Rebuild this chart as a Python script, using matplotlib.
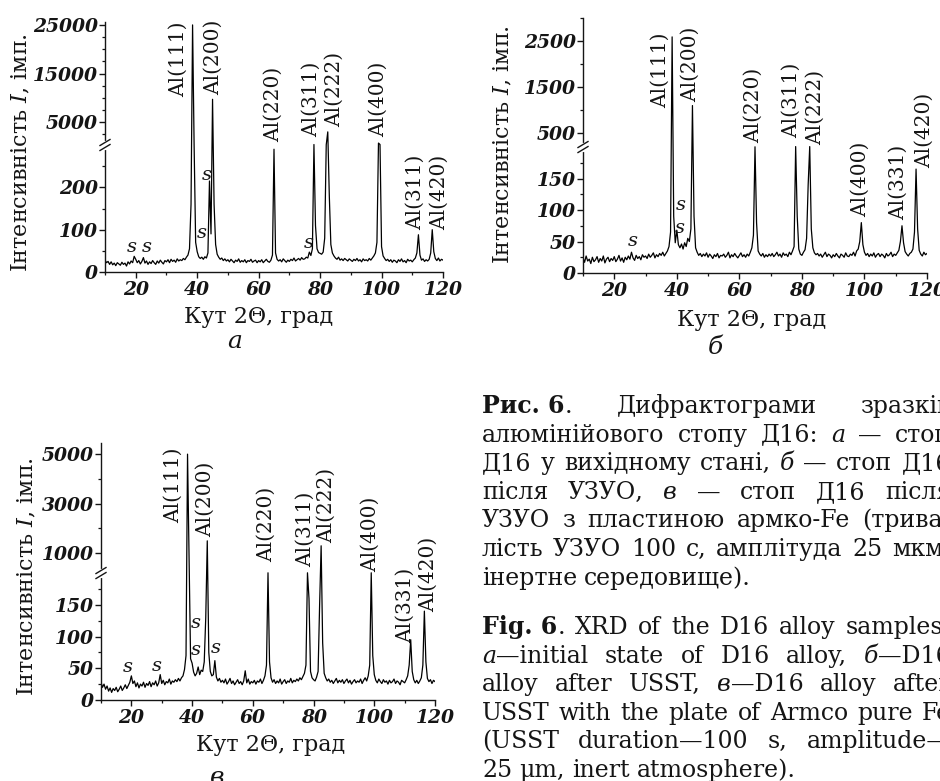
import numpy as np
import matplotlib
matplotlib.use("Agg")
import matplotlib.pyplot as plt
from matplotlib.transforms import blended_transform_factory

plt.rcParams["font.family"] = "DejaVu Serif"
plt.rcParams["mathtext.fontset"] = "dejavuserif"

# 2Theta grid of the scans (deg), 0.5 deg step
two_theta = np.arange(10.0, 120.5, 0.5)

# a - initial state of D16
intensity_a = [
    28, 22, 25, 18, 24, 17, 21, 15, 22, 19,
    16, 23, 18, 21, 14, 24, 19, 26, 22, 37,
    30, 22, 27, 19, 25, 34, 21, 26, 18, 24,
    20, 27, 22, 18, 26, 21, 28, 23, 19, 27,
    24, 29, 22, 30, 25, 28, 23, 31, 26, 29,
    27, 32, 29, 35, 40, 55, 160, 25000, 350, 70,
    48, 36, 32, 35, 30, 36, 33, 45, 215, 90,
    9700, 160, 65, 42, 35, 30, 33, 27, 31, 26,
    29, 24, 30, 26, 22, 28, 25, 31, 23, 27,
    24, 29, 22, 27, 25, 30, 23, 26, 28, 22,
    27, 24, 29, 22, 26, 30, 25, 23, 28, 40,
    290, 45, 30, 26, 29, 24, 31, 27, 23, 28,
    25, 30, 27, 33, 26, 29, 32, 28, 34, 30,
    31, 35, 33, 47, 39, 55, 400, 110, 55, 46,
    44, 42, 47, 80, 350, 3000, 180, 65, 45, 38,
    33, 30, 35, 28, 31, 27, 32, 29, 26, 31,
    28, 25, 30, 27, 32, 26, 29, 24, 31, 27,
    29, 26, 32, 28, 33, 38, 45, 70, 700, 400,
    60, 38, 32, 27, 30, 25, 29, 23, 28, 26,
    22, 29, 25, 31, 24, 27, 22, 30, 26, 28,
    24, 29, 33, 45, 88, 40, 28, 31, 25, 29,
    26, 30, 45, 100, 48, 32, 27, 33, 26, 30,
    28]

# b - after USST
intensity_b = [
    24, 17, 27, 19, 22, 15, 25, 18, 21, 26,
    17, 23, 19, 27, 16, 22, 25, 18, 23, 20,
    26, 18, 22, 28, 19, 24, 17, 25, 21, 27,
    22, 33, 24, 20, 28, 23, 26, 21, 29, 25,
    27, 23, 30, 25, 28, 32, 24, 29, 26, 31,
    28, 33, 27, 31, 35, 42, 65, 2590, 90, 48,
    68, 45, 40, 46, 38, 48, 42, 55, 50, 70,
    1100, 90, 40, 33, 28, 31, 26, 30, 27, 32,
    25, 30, 27, 23, 29, 26, 31, 24, 28, 27,
    30, 25, 28, 33, 24, 29, 26, 31, 27, 24,
    28, 32, 26, 29, 25, 30, 27, 33, 40, 60,
    205, 80, 35, 30, 27, 31, 25, 29, 26, 30,
    27, 31, 26, 29, 33, 27, 30, 25, 32, 28,
    30, 26, 33, 29, 35, 42, 210, 90, 38, 30,
    28, 33, 37, 55, 140, 210, 70, 40, 32, 29,
    31, 27, 30, 25, 29, 33, 26, 30, 28, 24,
    29, 26, 31, 27, 24, 30, 28, 25, 32, 27,
    26, 30, 28, 33, 27, 35, 38, 50, 80, 45,
    33, 28, 31, 26, 30, 27, 32, 25, 29, 31,
    26, 30, 28, 24, 31, 27, 29, 33, 26, 30,
    28, 32, 36, 50, 75, 48, 34, 30, 27, 31,
    33, 38, 65, 165, 70, 36, 30, 27, 33, 29,
    31]

# c - after USST with Armco-Fe plate
intensity_c = [
    28, 20, 25, 17, 22, 14, 19, 12, 18, 15,
    20, 13, 17, 22, 15, 19, 24, 18, 23, 28,
    38, 26, 30, 21, 27, 19, 25, 22, 28, 20,
    26, 23, 29, 21, 27, 24, 30, 22, 27, 40,
    26, 31, 24, 29, 27, 33, 25, 30, 28, 32,
    29, 34, 30, 35, 38, 48, 70, 5000, 900, 65,
    58, 44, 38, 42, 52, 40, 47, 45, 60, 130,
    1500, 75, 45, 38, 40, 62, 36, 30, 34, 28,
    31, 27, 33, 25, 29, 34, 26, 30, 24, 28,
    32, 26, 29, 24, 30, 46, 27, 33, 25, 29,
    27, 31, 25, 30, 28, 33, 26, 31, 38, 55,
    210, 60, 35, 28, 32, 26, 30, 27, 33, 25,
    29, 32, 26, 30, 28, 34, 27, 31, 29, 33,
    30, 35, 32, 37, 42, 55, 210, 160, 45, 35,
    32, 30, 36, 45, 150, 1300, 90, 42, 35, 30,
    33, 28, 31, 26, 30, 34, 27, 31, 28, 32,
    26, 30, 33, 27, 31, 25, 29, 32, 27, 30,
    28, 33, 26, 31, 35, 30, 38, 55, 210, 70,
    40, 31, 27, 33, 29, 26, 32, 28, 30, 25,
    31, 27, 29, 33, 26, 30, 28, 24, 31, 29,
    27, 32, 38, 55, 95, 45, 32, 27, 31, 26,
    30, 35, 55, 140, 60, 34, 29, 32, 26, 31,
    29]

peaks_a = ["Al(111)", "Al(200)", "Al(220)", "Al(311)", "Al(222)", "Al(400)", "Al(311)", "Al(420)"]
peaks_bc = ["Al(111)", "Al(200)", "Al(220)", "Al(311)", "Al(222)", "Al(400)", "Al(331)", "Al(420)"]

yticks_a = [0, 100, 200, 5000, 15000, 25000]
yticks_b = [0, 50, 100, 150, 500, 1500, 2500]
yticks_c = [0, 50, 100, 150, 1000, 3000, 5000]

xlabel = "Кут 2Θ, град"
ylabel = "Інтенсивність $I$, імп."

caption_ua = [
    "#Рис.~6#. Дифрактограми зразків",
    "алюмінійового стопу Д16: *а* — стоп",
    "Д16 у вихідному стані, *б* — стоп Д16",
    "після УЗУО, *в* — стоп Д16 після",
    "УЗУО з пластиною армко-Fe (трива-",
    "лість УЗУО 100 с, амплітуда 25 мкм,",
    "інертне середовище).",
]
caption_en = [
    "#Fig.~6#. XRD of the D16 alloy samples:",
    "*а*—initial state of D16 alloy, *б*—D16",
    "alloy after USST, *в*—D16 alloy after",
    "USST with the plate of Armco pure Fe",
    "(USST duration—100 s, amplitude—",
    "25 μm, inert atmosphere).",
]

W, H = 940, 781
INK = "#151515"
TICK_FS = 13.5
AXLAB_FS = 16
PEAK_FS = 14.5
fig = plt.figure(figsize=(W / 100, H / 100), dpi=100)


def fx(px):
    return px / W


def fy(py):
    return 1 - py / H


def broken_scale(lo_max, hi_max, frac):
    def fwd(y):
        y = np.asarray(y, dtype=float)
        return np.where(y <= lo_max, y / lo_max * frac,
                        frac + (y - lo_max) / (hi_max - lo_max) * (1 - frac))

    def inv(f):
        f = np.asarray(f, dtype=float)
        return np.where(f <= frac, f / frac * lo_max,
                        lo_max + (f - frac) / (1 - frac) * (hi_max - lo_max))
    return fwd, inv


def draw_panel(box, values, lo_max, hi_max, frac, yticks, yminor,
               labels, label_pos, s_pos):
    left, top, right, bottom = box
    bw, bh = right - left, bottom - top
    ax = fig.add_axes([fx(left), fy(bottom), bw / W, bh / H])
    ax.set_yscale("function", functions=broken_scale(lo_max, hi_max, frac))
    ax.plot(two_theta, values, color="black", lw=0.9)
    ax.set_xlim(10, 120)
    ax.set_ylim(0, hi_max)

    ax.set_xticks(range(20, 121, 20))
    ax.set_xticks(range(10, 120, 20), minor=True)
    ax.set_xticklabels([str(v) for v in range(20, 121, 20)],
                       fontstyle="italic", fontweight="bold", fontsize=TICK_FS)
    ax.set_yticks(yticks)
    ax.set_yticks(yminor, minor=True)
    ax.set_yticklabels([str(v) for v in yticks],
                       fontstyle="italic", fontweight="bold", fontsize=TICK_FS)
    ax.tick_params(which="major", length=4, width=1, color=INK, labelcolor=INK)
    ax.tick_params(which="minor", length=2.5, width=0.9, color=INK)
    ax.tick_params(axis="y", pad=1.0)
    ax.tick_params(axis="x", pad=2.5)
    for side in ["top", "right"]:
        ax.spines[side].set_visible(False)
    for side in ["left", "bottom"]:
        ax.spines[side].set_linewidth(1.0)
        ax.spines[side].set_color(INK)

    # break mark on the y axis
    gap = 2.5 / bh
    ax.plot([0, 0], [frac - gap, frac + gap], transform=ax.transAxes,
            color="white", lw=3, clip_on=False, zorder=5)
    for off in (-gap, gap):
        ax.plot([-5 / bw, 5 / bw], [frac + off - 3 / bh, frac + off + 3 / bh],
                transform=ax.transAxes, color=INK, lw=1, clip_on=False, zorder=6)

    trans = blended_transform_factory(ax.transData, ax.transAxes)
    for lab, (px, py) in zip(labels, label_pos):
        ax.text(px, py, lab, transform=trans, rotation=90, ha="center",
                va="bottom", fontsize=PEAK_FS, color=INK, clip_on=False)
    for px, py in s_pos:
        ax.text(px, py, "s", transform=trans, ha="center", va="center",
                fontsize=14, style="italic", color=INK)
    return ax


# panel a
draw_panel((105, 22, 443, 272), intensity_a, 300, 25600, 0.508,
           yticks_a, [50, 150, 250, 2500, 7500, 10000, 12500, 17500, 20000, 22500],
           peaks_a,
           [(33.9, 0.70), (45.2, 0.708), (64.8, 0.521), (77.2, 0.541),
            (84.8, 0.581), (98.9, 0.541), (110.9, 0.168), (118.8, 0.168)],
           [(18.7, 0.101), (23.6, 0.101), (41.5, 0.156), (43.1, 0.388), (76.2, 0.115)])
fig.text(fx(21), fy(153), ylabel, rotation=90, ha="center", va="center", fontsize=AXLAB_FS, color=INK)
fig.text(fx(259), fy(317), xlabel, ha="center", va="center", fontsize=AXLAB_FS, color=INK)
fig.text(fx(235), fy(342), "а", ha="center", va="center", fontsize=18, style="italic", color=INK)

# panel b
draw_panel((583, 18, 927, 273), intensity_b, 200, 3000, 0.494,
           yticks_b, [25, 75, 125, 175, 1000, 2000, 3000],
           peaks_bc,
           [(34.6, 0.646), (44.2, 0.672), (64.5, 0.508), (76.7, 0.528),
            (84.2, 0.502), (98.6, 0.221), (110.8, 0.208), (119.1, 0.41)],
           [(25.8, 0.127), (40.8, 0.175), (41.3, 0.267)])
fig.text(fx(503), fy(145), ylabel, rotation=90, ha="center", va="center", fontsize=AXLAB_FS, color=INK)
fig.text(fx(752), fy(320), xlabel, ha="center", va="center", fontsize=AXLAB_FS, color=INK)
fig.text(fx(715), fy(347), "б", ha="center", va="center", fontsize=18, style="italic", color=INK)

# panel c
draw_panel((101, 443, 435, 700), intensity_c, 200, 5450, 0.494,
           yticks_c, [25, 75, 125, 175, 2000, 4000],
           peaks_bc,
           [(33.8, 0.687), (44.3, 0.636), (64.6, 0.538), (77.2, 0.519),
            (84.3, 0.61), (98.6, 0.499), (110.1, 0.22), (117.8, 0.344)],
           [(18.8, 0.13), (28.3, 0.132), (41.3, 0.298), (41.3, 0.195), (47.9, 0.204)])
fig.text(fx(27), fy(577), ylabel, rotation=90, ha="center", va="center", fontsize=AXLAB_FS, color=INK)
fig.text(fx(271), fy(745), xlabel, ha="center", va="center", fontsize=AXLAB_FS, color=INK)
fig.text(fx(217), fy(777), "в", ha="center", va="center", fontsize=18, style="italic", color=INK)

# caption, justified between COL_L and COL_R (runs past the right edge)
CAP_FS = 17
COL_L, COL_R = 482, 951
renderer = fig.canvas.get_renderer()


def parse_words(line):
    words = []
    italic = bold = False
    for raw in line.split(" "):
        segs, buf = [], ""
        for ch in raw:
            if ch in "*#":
                if buf:
                    segs.append((buf.replace("~", " "), italic, bold))
                    buf = ""
                if ch == "*":
                    italic = not italic
                else:
                    bold = not bold
            else:
                buf += ch
        if buf:
            segs.append((buf.replace("~", " "), italic, bold))
        words.append(segs)
    return words


def caption_line(line, base, justify):
    items, total = [], 0
    for segs in parse_words(line):
        parts = []
        for s, it, bd in segs:
            t = fig.text(0, fy(base), s, fontsize=CAP_FS, va="baseline", ha="left",
                         style="italic" if it else "normal",
                         weight="bold" if bd else "normal", color=INK)
            w = t.get_window_extent(renderer).width
            parts.append((t, w))
            total += w
        items.append(parts)
    space = 0.3 * CAP_FS * 100 / 72
    if justify and len(items) > 1:
        space = max((COL_R - COL_L - total) / (len(items) - 1), 0.2 * CAP_FS)
    x = COL_L
    for parts in items:
        for t, w in parts:
            t.set_x(fx(x))
            x += w
        x += space


for i, line in enumerate(caption_ua):
    caption_line(line, 413 + 28.6 * i, i < len(caption_ua) - 1)
for i, line in enumerate(caption_en):
    caption_line(line, 634 + 28.6 * i, i < len(caption_en) - 1)

fig.savefig("out.png", dpi=100)
